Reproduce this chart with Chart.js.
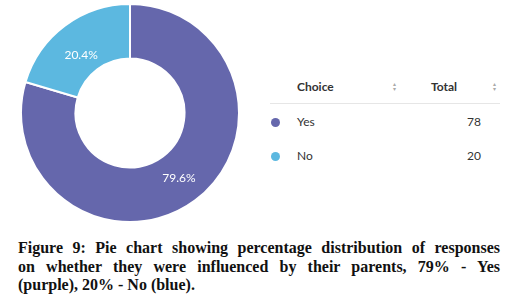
<!DOCTYPE html>
<html><head><meta charset="utf-8">
<script src="https://cdn.jsdelivr.net/npm/chart.js@4/dist/chart.umd.min.js"></script>
<style>
html,body{margin:0;padding:0;background:#fff;width:520px;height:306px;overflow:hidden;}
#wrap{position:absolute;left:20px;top:3px;width:220px;height:220px;}
.t{position:absolute;font-family:Lato,sans-serif;font-size:12px;color:#333;white-space:nowrap;}
.h{font-weight:bold;color:#333;}
.dot{position:absolute;width:9px;height:9px;border-radius:50%;}
.sort{position:absolute;font-family:Lato,sans-serif;font-size:6px;line-height:5px;color:#aaa;}
#line{position:absolute;left:270px;top:103px;width:230px;height:1px;background:#e6e6e6;}
#cap{position:absolute;left:18px;top:239px;width:482px;font-family:"Liberation Serif",serif;font-weight:bold;font-size:16px;line-height:18.5px;color:#111;}
#cap div{text-align:justify;text-align-last:justify;white-space:nowrap;}
#cap div.last{text-align-last:left;}
</style></head><body>
<div id="wrap"><canvas id="c"></canvas></div>
<div class="t h" style="left:297px;top:79px">Choice</div>
<div class="sort" style="left:393px;top:81px">▴<br>▾</div>
<div class="t h" style="left:431px;top:79px">Total</div>
<div class="sort" style="left:493px;top:81px">▴<br>▾</div>
<div id="line"></div>
<div id="rows"></div>
<div id="cap"><div>Figure 9: Pie chart showing percentage distribution of responses</div><div>on whether they were influenced by their parents, 79% - Yes</div><div class="last">(purple), 20% - No (blue).</div></div>
<script>
const categories = ["Yes", "No"];
const totals = [78, 20];
const colors = ["#6567ac", "#5cb8e0"];

const rows = document.getElementById('rows');
categories.forEach((c, i) => {
  const y = 115 + i * 34;
  rows.insertAdjacentHTML('beforeend',
    `<div class="dot" style="left:271px;top:${y+3}px;background:${colors[i]}"></div>` +
    `<div class="t" style="left:297px;top:${y-1}px">${c}</div>` +
    `<div class="t" style="left:440px;width:41px;text-align:right;top:${y-1}px">${totals[i]}</div>`);
});

const labelPlugin = {
  id: 'pct',
  afterDatasetsDraw(chart) {
    const ctx = chart.ctx;
    const meta = chart.getDatasetMeta(0);
    const sum = totals.reduce((a, b) => a + b, 0);
    ctx.save();
    ctx.fillStyle = '#fff';
    ctx.font = '12px Lato, sans-serif';
    ctx.textAlign = 'center';
    ctx.textBaseline = 'middle';
    meta.data.forEach((arc, i) => {
      const p = arc.tooltipPosition();
      ctx.fillText((totals[i] / sum * 100).toFixed(1) + '%', p.x, p.y + (i === 1 ? 8 : 0));
    });
    ctx.restore();
  }
};

new Chart(document.getElementById('c'), {
  type: 'doughnut',
  data: { labels: categories, datasets: [{ data: totals, backgroundColor: colors, borderColor: '#fff', borderWidth: 2 }] },
  options: {
    responsive: true, maintainAspectRatio: false, animation: false,
    cutout: '50%',
    plugins: { legend: { display: false }, tooltip: { enabled: false } }
  },
  plugins: [labelPlugin]
});
</script>
</body></html>
